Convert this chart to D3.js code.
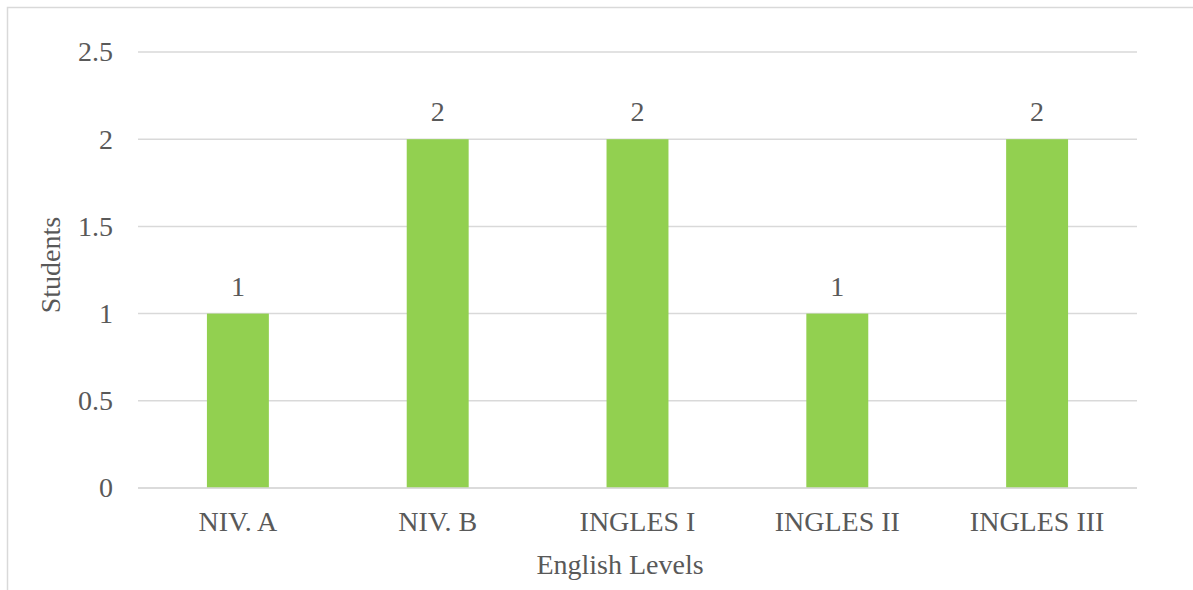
<!DOCTYPE html>
<html>
<head>
<meta charset="utf-8">
<script src="https://cdn.jsdelivr.net/npm/d3@7"></script>
<style>
  html, body { margin: 0; padding: 0; background: #fff; }
  svg { display: block; }
  text { font-family: "Liberation Serif", "Times New Roman", serif; fill: #595959; }
</style>
</head>
<body>
<svg id="chart" width="1193" height="590"></svg>
<script>
// Students per English level
const levels = ["NIV. A", "NIV. B", "INGLES I", "INGLES II", "INGLES III"];
const students = [1, 2, 2, 1, 2];
const yTicks = [0, 0.5, 1, 1.5, 2, 2.5];

const svg = d3.select("#chart");
const W = 1193, H = 590;
const plot = { left: 138, right: 1137, top: 52, bottom: 488 };
const fontSize = 28;
const serif = "'Liberation Serif', 'Times New Roman', serif";

// outer chart border
svg.append("rect")
  .attr("x", 7.5).attr("y", 7.5)
  .attr("width", W).attr("height", H)
  .attr("fill", "none")
  .attr("stroke", "#d9d9d9")
  .attr("stroke-width", 1.5);

const x = d3.scaleBand().domain(levels).range([plot.left, plot.right]).padding(0);
const y = d3.scaleLinear().domain([0, 2.5]).range([plot.bottom, plot.top]);
const barW = x.bandwidth() * 0.31;

// value axis labels
const yAxis = d3.axisLeft(y).tickValues(yTicks).tickFormat(d3.format("")).tickSize(0).tickPadding(25);
const gy = svg.append("g").attr("transform", `translate(${plot.left},0)`).call(yAxis);
gy.select(".domain").remove();
gy.selectAll("text").attr("font-size", fontSize).attr("fill", "#595959")
  .style("font-family", serif);

// horizontal gridlines
svg.append("g").selectAll("line").data(yTicks).join("line")
  .attr("x1", plot.left).attr("x2", plot.right)
  .attr("y1", d => y(d)).attr("y2", d => y(d))
  .attr("stroke", "#d9d9d9").attr("stroke-width", 1.5);

// bars
svg.append("g").selectAll("rect").data(levels).join("rect")
  .attr("x", d => x(d) + (x.bandwidth() - barW) / 2)
  .attr("width", barW)
  .attr("y", (d, i) => y(students[i]))
  .attr("height", (d, i) => y(0) - y(students[i]))
  .attr("fill", "#92d050");

// baseline drawn over the bars
svg.append("line")
  .attr("x1", plot.left).attr("x2", plot.right)
  .attr("y1", y(0)).attr("y2", y(0))
  .attr("stroke", "#d9d9d9").attr("stroke-width", 1.5);

// data labels
svg.append("g").selectAll("text").data(levels).join("text")
  .attr("x", d => x(d) + x.bandwidth() / 2)
  .attr("y", (d, i) => y(students[i]) - 18)
  .attr("text-anchor", "middle")
  .attr("font-size", fontSize)
  .text((d, i) => students[i]);

// category axis
const xAxis = d3.axisBottom(x).tickSize(0).tickPadding(23);
const gx = svg.append("g").attr("transform", `translate(0,${plot.bottom})`).call(xAxis);
gx.select(".domain").remove();
gx.selectAll("text").attr("font-size", fontSize).attr("fill", "#595959")
  .style("font-family", serif);

// axis titles
svg.append("text")
  .attr("x", 620)
  .attr("y", 574)
  .attr("text-anchor", "middle")
  .attr("font-size", fontSize)
  .text("English Levels");

svg.append("text")
  .attr("transform", `translate(60,${(plot.top + plot.bottom) / 2 - 5}) rotate(-90)`)
  .attr("text-anchor", "middle")
  .attr("font-size", fontSize)
  .text("Students");
</script>
</body>
</html>
